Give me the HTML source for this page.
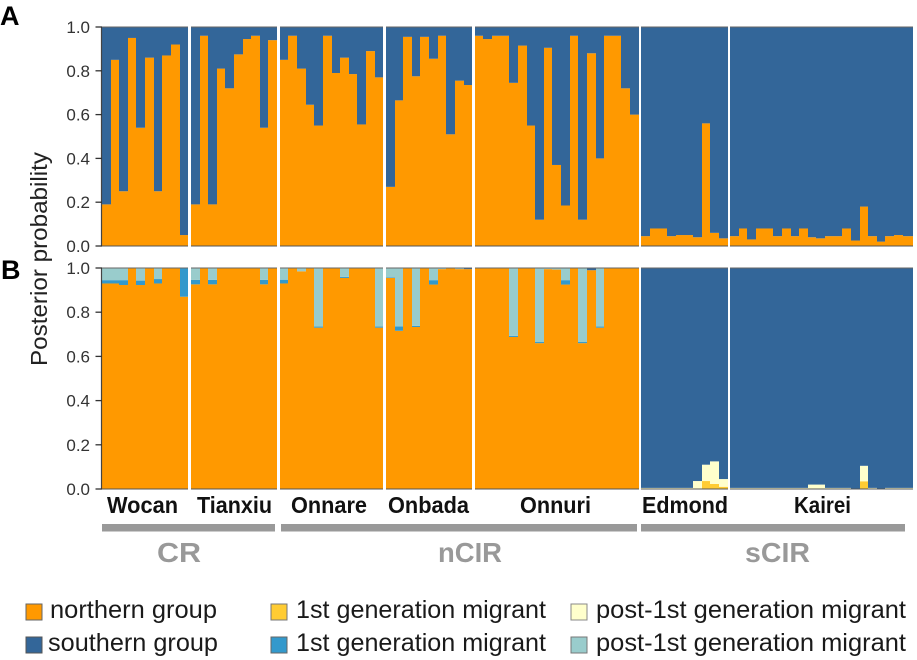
<!DOCTYPE html>
<html lang="en">
<head>
<meta charset="utf-8">
<title>Posterior probability chart</title>
<style>
  html, body { margin: 0; padding: 0; background: #ffffff; }
  body { width: 917px; height: 660px; overflow: hidden; }
  svg { display: block; font-family: "Liberation Sans", sans-serif; }
</style>
</head>
<body>
<svg id="chart" width="917" height="660" viewBox="0 0 917 660" xmlns="http://www.w3.org/2000/svg">
  <text x="0" y="25" font-size="27" font-weight="bold" fill="#000">A</text>
  <text x="1" y="279" font-size="27" font-weight="bold" fill="#000">B</text>
  <text transform="translate(47,366) rotate(-90)" font-size="23" fill="#222" textLength="214" lengthAdjust="spacingAndGlyphs">Posterior probability</text>

  <rect x="102" y="524" width="173" height="7.5" fill="#999999"/>
  <rect x="281" y="524" width="356" height="7.5" fill="#999999"/>
  <rect x="641" y="524" width="264" height="7.5" fill="#999999"/>
  <text x="157" y="562" font-size="28" font-weight="bold" fill="#999999" textLength="44" lengthAdjust="spacingAndGlyphs">CR</text>
  <text x="438" y="562" font-size="28" font-weight="bold" fill="#999999" textLength="64" lengthAdjust="spacingAndGlyphs">nCIR</text>
  <text x="745" y="562" font-size="28" font-weight="bold" fill="#999999" textLength="65" lengthAdjust="spacingAndGlyphs">sCIR</text>

  <text x="107" y="513" font-size="23" font-weight="bold" fill="#111" textLength="71" lengthAdjust="spacingAndGlyphs">Wocan</text>
  <text x="197" y="513" font-size="23" font-weight="bold" fill="#111" textLength="75" lengthAdjust="spacingAndGlyphs">Tianxiu</text>
  <text x="291" y="513" font-size="23" font-weight="bold" fill="#111" textLength="76" lengthAdjust="spacingAndGlyphs">Onnare</text>
  <text x="388" y="513" font-size="23" font-weight="bold" fill="#111" textLength="81" lengthAdjust="spacingAndGlyphs">Onbada</text>
  <text x="520" y="513" font-size="23" font-weight="bold" fill="#111" textLength="71" lengthAdjust="spacingAndGlyphs">Onnuri</text>
  <text x="642" y="513" font-size="23" font-weight="bold" fill="#111" textLength="86" lengthAdjust="spacingAndGlyphs">Edmond</text>
  <text x="794" y="513" font-size="23" font-weight="bold" fill="#111" textLength="57" lengthAdjust="spacingAndGlyphs">Kairei</text>

  <g font-size="25" fill="#1a1a1a">
    <g>
      <rect x="26" y="604" width="16" height="16" fill="#FF9900" stroke="#666" stroke-width="1"/>
      <text x="50" y="618" textLength="167" lengthAdjust="spacingAndGlyphs">northern group</text>
    </g>
    <g>
      <rect x="26" y="637" width="16" height="16" fill="#336699" stroke="#555" stroke-width="1"/>
      <text x="48" y="651" textLength="170" lengthAdjust="spacingAndGlyphs">southern group</text>
    </g>
    <g>
      <rect x="271" y="604" width="16" height="16" fill="#FFCC33" stroke="#777" stroke-width="1"/>
      <text x="296" y="618" textLength="250" lengthAdjust="spacingAndGlyphs">1st generation migrant</text>
    </g>
    <g>
      <rect x="271" y="637" width="16" height="16" fill="#3399CC" stroke="#666" stroke-width="1"/>
      <text x="296" y="651" textLength="250" lengthAdjust="spacingAndGlyphs">1st generation migrant</text>
    </g>
    <g>
      <rect x="571" y="604" width="16" height="16" fill="#FFFFCC" stroke="#888" stroke-width="1"/>
      <text x="596" y="618" textLength="310" lengthAdjust="spacingAndGlyphs">post-1st generation migrant</text>
    </g>
    <g>
      <rect x="571" y="637" width="16" height="16" fill="#99CCCC" stroke="#777" stroke-width="1"/>
      <text x="596" y="651" textLength="310" lengthAdjust="spacingAndGlyphs">post-1st generation migrant</text>
    </g>
  </g>
</svg>

<script>
// Populations and how many individuals (bars) each one has
const populations = ["Wocan", "Tianxiu", "Onnare", "Onbada", "Onnuri", "Edmond", "Kairei"];
const populationSizes = [10, 10, 12, 10, 19, 10, 21];
const tickLabels = ["0.0", "0.2", "0.4", "0.6", "0.8", "1.0"];
const tickValues = [0, 0.2, 0.4, 0.6, 0.8, 1];

// Panel A: membership probability per individual
const aNorthern = [
  .19,.85,.25,.95,.54,.86,.25,.87,.92,.05,
  .19,.96,.19,.81,.72,.875,.945,.96,.54,.94,
  .85,.96,.81,.645,.55,.96,.79,.86,.785,.555,.89,.77,
  .27,.665,.955,.775,.955,.855,.96,.51,.755,.735,
  .96,.945,.96,.96,.745,.915,.55,.12,.905,.37,.185,.96,.12,.88,.40,.96,.96,.72,.60,
  .045,.08,.08,.045,.05,.05,.04,.56,.06,.035,
  .045,.08,.03,.08,.08,.045,.08,.045,.08,.04,.035,.045,.045,.08,.025,.18,.045,.02,.045,.05,.045
];
const aSouthern = [
  .81,.15,.75,.05,.46,.14,.75,.13,.08,.95,
  .81,.04,.81,.19,.28,.125,.055,.04,.46,.06,
  .15,.04,.19,.355,.45,.04,.21,.14,.215,.445,.11,.23,
  .73,.335,.045,.225,.045,.145,.04,.49,.245,.265,
  .04,.055,.04,.04,.255,.085,.45,.88,.095,.63,.815,.04,.88,.12,.60,.04,.04,.28,.40,
  .955,.92,.92,.955,.95,.95,.96,.44,.94,.965,
  .955,.92,.97,.92,.92,.955,.92,.955,.92,.96,.965,.955,.955,.92,.975,.82,.955,.98,.955,.95,.955
];

// Panel B: ancestry class probability per individual
const bNorthern = [
  .93,.93,.923,1,.923,1,.93,1,1,.87,
  .926,1,.926,1,1,1,1,1,.926,1,
  .93,1,.985,1,.73,1,1,.955,1,1,1,.73,
  .955,.716,1,.733,1,.925,.995,1,.995,.995,
  1,1,1,1,.688,1,1,.66,.995,.993,.925,1,.66,.99,.73,1,1,1,1,
  0,0,0,0,0,0,0,0,0,0,
  0,0,0,0,0,0,0,0,0,0,0,0,0,0,0,0,0,0,0,0,0
];
const bBlueFirst = [
  .015,.015,.022,0,.02,0,.02,0,0,.13,
  .02,0,.02,0,0,0,0,0,.02,0,
  .017,0,0,0,.005,0,0,.005,0,0,0,.005,
  .003,.02,0,.005,0,.02,0,0,0,0,
  0,0,0,0,.005,0,0,.005,0,0,.02,0,.005,0,.005,0,0,0,0,
  0,0,0,0,0,0,0,0,0,0,
  0,0,0,0,0,0,0,0,0,0,0,0,0,0,0,0,0,0,0,0,0
];
const bTealPost = [
  .055,.055,.055,0,.057,0,.05,0,0,0,
  .054,0,.054,0,0,0,0,0,.054,0,
  .053,0,.015,0,.265,0,0,.04,0,0,0,.265,
  .042,.264,0,.262,0,.055,.005,0,.005,0,
  0,0,0,0,.307,0,0,.335,.005,.007,.055,0,.335,0,.265,0,0,0,0,
  0,0,0,0,0,0,0,0,0,0,
  0,0,0,0,0,0,0,0,0,0,0,0,0,0,0,0,0,0,0,0,0
];
const bGoldFirst = [
  0,0,0,0,0,0,0,0,0,0,
  0,0,0,0,0,0,0,0,0,0,
  0,0,0,0,0,0,0,0,0,0,0,0,
  0,0,0,0,0,0,0,0,0,0,
  0,0,0,0,0,0,0,0,0,0,0,0,0,0,0,0,0,0,0,
  0,0,0,0,0,0,0,.036,.023,.01,
  0,0,0,0,0,0,0,0,0,0,0,0,0,0,0,.035,0,0,0,0,0
];
const bCreamPost = [
  0,0,0,0,0,0,0,0,0,0,
  0,0,0,0,0,0,0,0,0,0,
  0,0,0,0,0,0,0,0,0,0,0,0,
  0,0,0,0,0,0,0,0,0,0,
  0,0,0,0,0,0,0,0,0,0,0,0,0,0,0,0,0,0,0,
  .005,.005,.005,.005,.005,.005,.036,.074,.102,.035,
  .005,.005,.005,.005,.005,.005,.005,.005,.005,.02,.02,.005,.005,.005,0,.07,.005,0,.005,.005,.005
];
const bSouthern = [
  0,0,0,0,0,0,0,0,0,0,
  0,0,0,0,0,0,0,0,0,0,
  0,0,0,0,0,0,0,0,0,0,0,0,
  0,0,0,0,0,0,0,0,0,.005,
  0,0,0,0,0,0,0,0,0,0,0,0,0,.01,0,0,0,0,0,
  .995,.995,.995,.995,.995,.995,.964,.89,.875,.955,
  .995,.995,.995,.995,.995,.995,.995,.995,.995,.98,.98,.995,.995,.995,1,.895,.995,1,.995,.995,.995
];

const COLORS = { north: "#FF9900", south: "#336699", gold: "#FFCC33", blue: "#3399CC", cream: "#FFFFCC", teal: "#99CCCC" };
const SVG_NS = "http://www.w3.org/2000/svg";
const svg = document.getElementById("chart");

// Axis geometry
const plotLeft = 102, plotRight = 913, bandStep = 8.62, groupGap = 2.7;
const panelAScale = v => 246 - 219 * v;
const panelBScale = v => 489 - 221 * v;

function groupOfIndex(i) {
  let seen = 0;
  for (let g = 0; g < populationSizes.length; g++) {
    seen += populationSizes[g];
    if (i < seen) return g;
  }
  return populationSizes.length - 1;
}
function bandLeft(i) { return Math.round(plotLeft + i * bandStep + groupOfIndex(i) * groupGap); }
function bandRight(i) {
  const n = aNorthern.length;
  if (i === n - 1) return plotRight;
  return Math.round(plotLeft + (i + 1) * bandStep + groupOfIndex(i) * groupGap);
}
function make(tag, attrs, parent) {
  const el = document.createElementNS(SVG_NS, tag);
  for (const k in attrs) el.setAttribute(k, attrs[k]);
  parent.appendChild(el);
  return el;
}

function drawPanel(panelName, yScale, stack) {
  const g = make("g", {}, svg);
  
  

  for (let i = 0; i < aNorthern.length; i++) {
    let cum = 0;
    stack.forEach(s => {
      const v = s.values[i];
      if (v > 0) {
        const yTop = yScale(cum + v), yBot = yScale(cum);
        const r = make("rect", {
          x: bandLeft(i),
          y: yTop.toFixed(2),
          width: bandRight(i) - bandLeft(i),
          height: (yBot - yTop).toFixed(2),
          fill: s.color
        }, g);
        
        
      }
      cum += v;
    });
  }

  // Frame lines along the top and bottom of each population block
  let start = 0;
  populations.forEach((name, p) => {
    const end = start + populationSizes[p] - 1;
    const x1 = bandLeft(start), x2 = bandRight(end);
    const top = make("line", { x1: x1, x2: x2, y1: yScale(1), y2: yScale(1), stroke: "#666", "stroke-width": 1 }, g);
    
    
    const bottom = make("line", { x1: x1, x2: x2, y1: yScale(0), y2: yScale(0), stroke: "#555", "stroke-width": 1 }, g);
    
    
    start = end + 1;
  });

  // Y axis
  const axis = make("line", { x1: plotLeft - 0.5, x2: plotLeft - 0.5, y1: yScale(1), y2: yScale(0), stroke: "#444", "stroke-width": 1.2 }, g);
  
  

  tickValues.forEach((t, idx) => {
    const y = yScale(t);
    const tick = make("line", { x1: plotLeft - 6.5, x2: plotLeft, y1: y, y2: y, stroke: "#333", "stroke-width": 1.3 }, g);
    
    
    const label = make("text", { x: 90, y: y + 6, "text-anchor": "end", "font-size": 17, fill: "#333" }, g);
    
    
    label.textContent = tickLabels[idx];
  });
}

drawPanel("panel-a", panelAScale, [
  { key: "northern", values: aNorthern, color: COLORS.north },
  { key: "southern", values: aSouthern, color: COLORS.south }
]);
drawPanel("panel-b", panelBScale, [
  { key: "northern", values: bNorthern, color: COLORS.north },
  { key: "first-gen-south", values: bBlueFirst, color: COLORS.blue },
  { key: "post-first-gen-south", values: bTealPost, color: COLORS.teal },
  { key: "first-gen-north", values: bGoldFirst, color: COLORS.gold },
  { key: "post-first-gen-north", values: bCreamPost, color: COLORS.cream },
  { key: "southern", values: bSouthern, color: COLORS.south }
]);
</script>
</body>
</html>
